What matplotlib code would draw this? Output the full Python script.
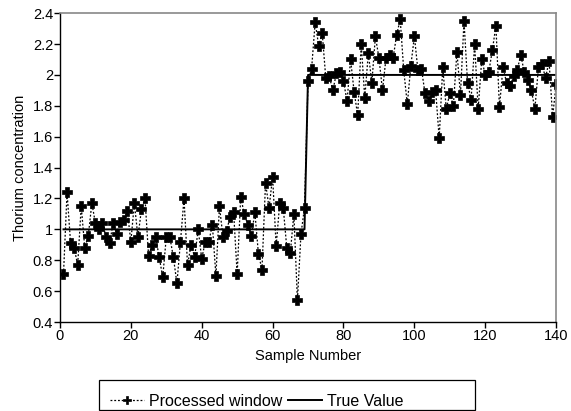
import numpy as np
import matplotlib
matplotlib.use("Agg")
import matplotlib.pyplot as plt
from matplotlib.patches import Rectangle
from matplotlib.ticker import FuncFormatter

plt.rcParams['font.family'] = ['Liberation Sans', 'DejaVu Sans']

# processed window estimates, samples 1..140
low = [0.71, 1.24, 0.91, 0.88, 0.77, 1.15, 0.88, 0.96, 1.17, 1.04,
       1.00, 1.04, 0.95, 0.91, 1.04, 0.97, 1.05, 1.06, 1.12, 0.92,
       1.17, 0.95, 1.13, 1.20, 0.83, 0.90, 0.95, 0.82, 0.69, 0.95,
       0.95, 0.82, 0.65, 0.92, 1.20, 0.77, 0.90, 0.82, 1.00, 0.81,
       0.92, 0.92, 1.03, 0.70, 1.15, 0.95, 0.99, 1.08, 1.11, 0.71,
       1.21, 1.10, 1.03, 0.96, 1.11, 0.84, 0.74, 1.30, 1.14, 1.34,
       0.89, 1.17, 1.14, 0.88, 0.85, 1.10, 0.54, 0.97, 1.14]
high = [1.96, 2.04, 2.34, 2.19, 2.27, 1.98, 1.99, 1.90, 2.01, 2.02,
        1.96, 1.83, 2.10, 1.89, 1.74, 2.20, 1.85, 2.14, 1.95, 2.25,
        2.11, 1.90, 2.11, 2.13, 2.11, 2.26, 2.36, 2.03, 1.81, 2.06,
        2.25, 2.03, 2.04, 1.88, 1.83, 1.89, 1.90, 1.59, 2.05, 1.78,
        1.88, 1.80, 2.15, 1.87, 2.35, 1.95, 1.84, 2.20, 1.78, 2.10,
        2.00, 2.02, 2.16, 2.32, 1.79, 2.05, 1.95, 1.93, 1.99, 2.03,
        2.13, 2.02, 1.97, 1.90, 1.78, 2.05, 2.07, 1.98, 2.09, 1.73,
        1.94]
processed = low + high
samples = np.arange(1, len(processed) + 1)

# true thorium level: 1 up to sample 69, 2 afterwards
true_value = [1.0 if s <= 69 else 2.0 for s in samples]

fig = plt.figure(figsize=(5.71, 4.11), dpi=100)
ax = fig.add_axes([0.105, 0.2165, 0.869, 0.7515])

ax.plot(samples, processed, color='black', linestyle=(0, (1.5, 1.5)),
        linewidth=0.9, marker='P', markersize=7.5, markeredgewidth=0.5,
        label='Processed window')
ax.plot(samples, true_value, color='black', linewidth=1.4, label='True Value')

ax.set_xlim(0, 140)
ax.set_ylim(0.4, 2.4)
ax.set_xticks(np.arange(0, 141, 20))
ax.set_yticks(np.arange(0.4, 2.41, 0.2))
ax.yaxis.set_major_formatter(FuncFormatter(lambda v, p: f"{v:g}"))
ax.tick_params(direction='out', length=4, width=1, labelsize=10.5, pad=1)

for side in ('top', 'right'):
    ax.spines[side].set_color('#888888')
    ax.spines[side].set_linewidth(1.2)
for side in ('left', 'bottom'):
    ax.spines[side].set_linewidth(1.0)

ax.set_xlabel('Sample Number', fontsize=10.5, labelpad=4)
ax.set_ylabel('Thorium concentration', fontsize=10.5, labelpad=4)

# legend box sits under the axes, entries packed to the left
fig.patches.append(Rectangle((0.173, 0.003), 0.658, 0.072, transform=fig.transFigure,
                             fill=False, edgecolor='black', linewidth=0.9))
fig.legend(loc='center left', bbox_to_anchor=(0.168, 0.0235), ncol=2,
           frameon=False, fontsize=11.5, handlelength=2.1,
           columnspacing=0.35, handletextpad=0.35, markerscale=0.75)

fig.savefig('out.png', dpi=100)
